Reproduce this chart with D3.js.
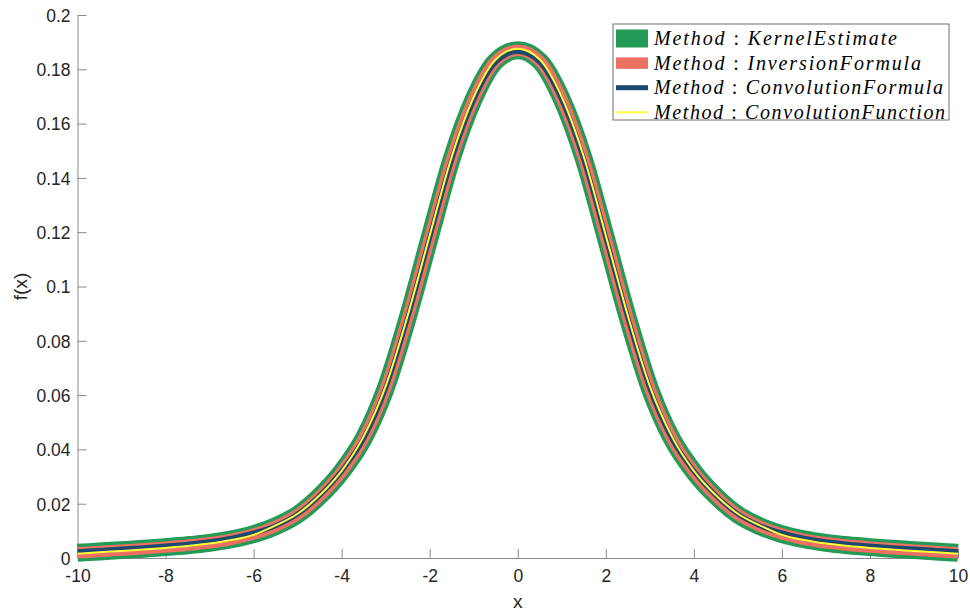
<!DOCTYPE HTML>
<html lang="en">
<head>
	<meta charset="utf-8">
	<script src="https://cdn.jsdelivr.net/npm/d3@7/dist/d3.min.js" charset="utf-8"></script>
	<style>
		body { margin: 0; background: #fff; }
		.tick text { font-family: "Liberation Sans", Arial, sans-serif; font-size: 17.5px; fill: #262626; }
	</style>
</head>
<body>
	<script>

		// x grid, -10 .. 10 step 0.5
		var xs = [-10, -9.5, -9, -8.5, -8, -7.5, -7, -6.5, -6, -5.5, -5, -4.5, -4, -3.5, -3, -2.5, -2, -1.5, -1, -0.5,
			0, 0.5, 1, 1.5, 2, 2.5, 3, 3.5, 4, 4.5, 5, 5.5, 6, 6.5, 7, 7.5, 8, 8.5, 9, 9.5, 10];

		var kernelY = [0.0019, 0.0024, 0.0029, 0.0034, 0.0040, 0.0047, 0.0056, 0.0069, 0.0088, 0.0117, 0.0160, 0.0228, 0.0318, 0.0440, 0.0625, 0.0885, 0.1180, 0.1470, 0.1690, 0.1830,
			0.1870, 0.1830, 0.1690, 0.1470, 0.1180, 0.0885, 0.0625, 0.0440, 0.0318, 0.0228, 0.0160, 0.0117, 0.0088, 0.0069, 0.0056, 0.0047, 0.0040, 0.0034, 0.0029, 0.0024, 0.0019];

		var inversionY = [0.0019, 0.0024, 0.0029, 0.0034, 0.0040, 0.0047, 0.0056, 0.0069, 0.0088, 0.0117, 0.0160, 0.0228, 0.0318, 0.0440, 0.0625, 0.0885, 0.1180, 0.1470, 0.1690, 0.1830,
			0.1870, 0.1830, 0.1690, 0.1470, 0.1180, 0.0885, 0.0625, 0.0440, 0.0318, 0.0228, 0.0160, 0.0117, 0.0088, 0.0069, 0.0056, 0.0047, 0.0040, 0.0034, 0.0029, 0.0024, 0.0019];

		var convFormulaY = [0.0023, 0.0028, 0.0033, 0.0038, 0.0044, 0.0051, 0.0060, 0.0073, 0.0092, 0.0119, 0.0162, 0.0230, 0.0320, 0.0440, 0.0625, 0.0885, 0.1180, 0.1467, 0.1687, 0.1826,
			0.1866, 0.1826, 0.1687, 0.1467, 0.1180, 0.0885, 0.0625, 0.0440, 0.0320, 0.0230, 0.0162, 0.0119, 0.0092, 0.0073, 0.0060, 0.0051, 0.0044, 0.0038, 0.0033, 0.0028, 0.0023];

		var convFunctionY = [0.0016, 0.0021, 0.0026, 0.0031, 0.0037, 0.0044, 0.0053, 0.0066, 0.0085, 0.0120, 0.0163, 0.0231, 0.0321, 0.0448, 0.0633, 0.0893, 0.1188, 0.1478, 0.1698, 0.1836,
			0.1876, 0.1836, 0.1698, 0.1478, 0.1188, 0.0893, 0.0633, 0.0448, 0.0321, 0.0231, 0.0163, 0.0120, 0.0085, 0.0066, 0.0053, 0.0044, 0.0037, 0.0031, 0.0026, 0.0021, 0.0016];

		var seriesNames = ["KernelEstimate", "InversionFormula", "ConvolutionFormula", "ConvolutionFunction"];

		var xTicks = [-10, -8, -6, -4, -2, 0, 2, 4, 6, 8, 10];
		var yTicks = [0, 0.02, 0.04, 0.06, 0.08, 0.1, 0.12, 0.14, 0.16, 0.18, 0.2];

		var w = 970;
		var h = 611;
		var padL = 77.5, padR = 958, padT = 15, padB = 558;

		var colors = ["#239a56", "#ed7162", "#1c4a6f", "#ffff3a"];
		var widths = [18, 11.5, 5, 2];

		var svg = d3.select("body")
			.append("svg")
			.attr("width", w)
			.attr("height", h);

		var xScale = d3.scaleLinear().domain([-10, 10]).range([padL, padR]);
		var yScale = d3.scaleLinear().domain([0, 0.2]).range([padB, padT]);

		var data = [kernelY, inversionY, convFormulaY, convFunctionY];

		var line = d3.line()
			.x(function(d, i){ return xScale(xs[i]); })
			.y(function(d){ return yScale(d); })
			.curve(d3.curveMonotoneX);

		// axes (ticks point inward, box off)
		var xAxis = svg.append("g")
			.attr("class", "axis")
			.attr("transform", "translate(0," + padB + ")")
			.call(d3.axisBottom(xScale).tickValues(xTicks).tickFormat(function(d){ return String(d); })
				.tickSizeInner(-9).tickSizeOuter(0).tickPadding(11.5));
		xAxis.selectAll("text").attr("dy", "0.71em");

		var yAxis = svg.append("g")
			.attr("class", "axis")
			.attr("transform", "translate(" + padL + ",0)")
			.call(d3.axisLeft(yScale).tickValues(yTicks).tickFormat(function(d){ return String(d); })
				.tickSizeInner(-9).tickSizeOuter(0).tickPadding(7));
		yAxis.selectAll("text").attr("dy", "0.36em");

		svg.selectAll(".axis path").attr("stroke", "#8a8a8a");
		svg.selectAll(".axis line").attr("stroke", "#8a8a8a");

		svg.selectAll("path.curve")
			.data(data)
			.enter()
			.append("path")
			.attr("class", "curve")
			.attr("d", line)
			.attr("fill", "none")
			.attr("stroke", function(d, i){ return colors[i]; })
			.attr("stroke-width", function(d, i){ return widths[i]; })
			.attr("stroke-linejoin", "round");

		// axis labels
		svg.append("text")
			.attr("x", (padL + padR) / 2)
			.attr("y", 608)
			.attr("text-anchor", "middle")
			.style("font-family", "Liberation Sans, Arial, sans-serif")
			.style("font-size", "19px")
			.attr("fill", "#262626")
			.text("x");

		svg.append("text")
			.attr("transform", "translate(27," + ((padT + padB) / 2) + ") rotate(-90)")
			.attr("text-anchor", "middle")
			.style("font-family", "Liberation Sans, Arial, sans-serif")
			.style("font-size", "19px")
			.attr("fill", "#262626")
			.text("f(x)");

		// legend
		var lg = svg.append("g").attr("transform", "translate(613,24)");
		lg.append("rect")
			.attr("width", 336)
			.attr("height", 96)
			.attr("fill", "#fff")
			.attr("stroke", "#6e6e6e")
			.attr("stroke-width", 1);

		var textLens = [243, 267, 289, 291];

		var rows = lg.selectAll("g.row")
			.data(seriesNames)
			.enter()
			.append("g")
			.attr("class", "row")
			.attr("transform", function(d, i){ return "translate(0," + (14.5 + i * 24.6) + ")"; });

		rows.append("line")
			.attr("x1", 3)
			.attr("x2", 35)
			.attr("stroke", function(d, i){ return colors[i]; })
			.attr("stroke-width", function(d, i){ return widths[i]; });

		var txt = rows.append("text")
			.attr("x", 41)
			.attr("y", 6.5)
			.attr("textLength", function(d, i){ return textLens[i]; })
			.attr("lengthAdjust", "spacing")
			.style("font-family", "Liberation Serif, Times New Roman, serif")
			.style("font-size", "20px")
			.attr("fill", "#000");

		txt.append("tspan").style("font-style", "italic").text("Method");
		txt.append("tspan").text(" : ");
		txt.append("tspan").style("font-style", "italic").text(function(d){ return d; });

	</script>
</body>
</html>
